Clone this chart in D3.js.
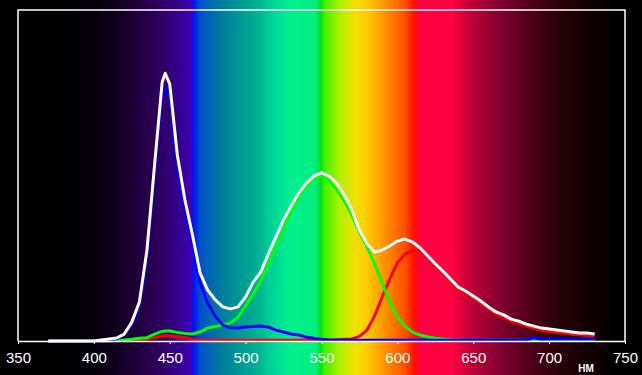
<!DOCTYPE html>
<html>
<head>
<meta charset="utf-8">
<script src="https://cdn.jsdelivr.net/npm/d3@7"></script>
<style>
    html, body { margin: 0; padding: 0; background: #000; }
    svg { display: block; }
</style>
</head>
<body>
<svg width="642" height="375"></svg>
<script>
// wavelengths (nm)
var wavelengths = [370, 375, 380, 385, 390, 395, 400, 405, 410, 415, 420, 425, 430, 435, 440, 445, 447, 450,
    455, 460, 465, 470, 475, 480, 485, 490, 495, 500, 505, 510, 515, 520, 525, 530, 535, 540, 545, 550,
    555, 560, 565, 570, 575, 580, 585, 590, 595, 600, 605, 610, 615, 620, 625, 630, 635, 640, 645, 650,
    655, 660, 665, 670, 675, 680, 685, 690, 695, 700, 705, 710, 715, 720, 725, 730];

// relative intensity, %
var whiteValues = [0, 0, 0, 0, 0, 0, 0, 0.3, 0.6, 0.9, 2.1, 5.7, 11.8, 27.5, 53.2, 78.2, 80.9, 77.6,
    56.2, 42.6, 32.0, 20.5, 15.4, 12.4, 10.3, 9.7, 10.3, 13.3, 17.8, 20.8, 26.3, 31.4, 36.6, 40.8, 44.7, 47.7, 49.8, 50.8,
    49.8, 47.7, 44.1, 39.6, 33.5, 29.3, 26.9, 27.5, 28.7, 30.2, 30.8, 29.9, 28.1, 25.7, 23.3, 21.1, 18.7, 16.3, 15.1, 13.6,
    12.1, 10.3, 8.8, 7.9, 6.6, 6.0, 5.1, 4.5, 3.9, 3.6, 3.3, 3.0, 2.7, 2.4, 2.4, 2.1];

var blueValues = [0, 0, 0, 0, 0, 0, 0, 0, 0.3, 0.6, 1.8, 5.0, 10.5, 25.5, 50.5, 74.5, 76.4, 73.5,
    52.5, 39.5, 29.5, 17.5, 11.5, 7.5, 4.8, 4.0, 3.9, 4.2, 4.4, 4.5, 4.2, 3.3, 2.7, 2.1, 1.8, 1.2, 0.8, 0.5,
    0.3, 0.2, 0.2, 0.2, 0.2, 0.2, 0.2, 0.2, 0.2, 0.2, 0.2, 0.2, 0.2, 0.2, 0.2, 0.2, 0.2, 0.2, 0.2, 0.2,
    0.2, 0.2, 0.2, 0.2, 0.2, 0.2, 0.4, 1.0, 0.5, 0.6, 0.6, 0.6, 0.6, 0.6, 0.6, 0.6];

var greenValues = [0, 0, 0, 0, 0, 0, 0, 0, 0.1, 0.2, 0.3, 0.5, 0.8, 1.0, 2.1, 2.9, 3.0, 3.0,
    2.6, 2.3, 2.1, 2.7, 3.9, 4.4, 4.8, 5.4, 7.2, 10.6, 14.2, 18.1, 23.3, 28.7, 33.8, 39.0, 43.8, 46.6, 48.9, 50.1,
    48.6, 45.6, 42.3, 38.1, 32.9, 28.4, 23.3, 17.5, 11.8, 7.3, 4.5, 2.7, 1.8, 1.2, 0.8, 0.6, 0.4, 0.3, 0.2, 0.2,
    0.2, 0.2, 0.2, 0.2, 0.2, 0.2, 0.2, 0.2, 0.2, 0.2, 0.2, 0.2, 0.2, 0.2, 0.2, 0.2];

var redValues = [0, 0, 0, 0, 0, 0, 0, 0, 0.1, 0.1, 0.2, 0.3, 0.4, 0.6, 1.0, 1.5, 1.6, 1.6,
    1.3, 1.0, 0.5, 0.3, 0.2, 0.2, 0.2, 0.2, 0.2, 0.2, 0.2, 0.2, 0.2, 0.2, 0.2, 0.2, 0.2, 0.2, 0.2, 0.2,
    0.3, 0.4, 0.5, 0.6, 1.4, 3.3, 7.6, 13.3, 18.7, 23.6, 26.3, 27.2, 27.0, 25.2, 22.6, 20.4, 18.0, 15.6, 14.4, 12.9,
    11.4, 9.7, 8.2, 7.3, 6.0, 5.4, 4.5, 3.8, 3.2, 2.9, 2.6, 2.3, 2.0, 1.9, 1.6, 1.5];

var xTicks = [350, 400, 450, 500, 550, 600, 650, 700, 750];
var unitLabel = "НМ";

// spectrum background: [nm, colour]
var spectrumNm = [350, 378, 404, 424, 444, 460, 464, 465.5, 470, 483, 500, 510, 516, 529, 546, 549, 550, 552,
    562, 572, 579, 592, 605, 611, 615, 636, 648, 668, 687, 707, 727, 747];
var spectrumColors = ["#000000", "#000000", "#05000c", "#1a0030", "#2e0060", "#3800a0", "#4000b8", "#0010ff",
    "#0050c8", "#007a9e", "#00a092", "#00b892", "#00d098", "#00f090", "#00f080", "#00e030", "#10e000", "#40f000",
    "#b0f000", "#f0e000", "#ffd000", "#ff9000", "#ff5000", "#ff1000", "#ff0040", "#ff0040", "#c00038",
    "#800030", "#500018", "#280008", "#100000", "#000000"];

window.onload = main;

function main() {
    var width = 642,
        height = 375;
    var margin = { left: 18, right: 17, top: 10, bottom: 34 };

    var svg = d3.select("svg");

    var x = d3.scaleLinear().domain([350, 750]).range([margin.left, width - margin.right]);
    var y = d3.scaleLinear().domain([0, 100]).range([height - margin.bottom, margin.top]);

    // spectrum gradient
    var grad = svg.append("defs").append("linearGradient")
        .attr("id", "spectrum")
        .attr("gradientUnits", "userSpaceOnUse")
        .attr("x1", x(350)).attr("x2", x(750))
        .attr("y1", 0).attr("y2", 0);
    grad.selectAll("stop")
        .data(spectrumNm)
        .enter()
        .append("stop")
        .attr("offset", function (d) { return (d - 350) / 400; })
        .attr("stop-color", function (d, i) { return spectrumColors[i]; });

    svg.append("rect")
        .attr("width", width).attr("height", height)
        .attr("fill", "#000");
    svg.append("rect")
        .attr("x", x(350)).attr("width", x(750) - x(350))
        .attr("y", 0).attr("height", height)
        .attr("fill", "url(#spectrum)");

    // frame
    svg.append("path")
        .attr("d", "M" + x(350) + "," + y(0) + "V" + margin.top + "H" + x(750) + "V" + y(0))
        .attr("fill", "none")
        .attr("stroke", "#fff")
        .attr("stroke-width", 1.5);

    // curves
    var series = [
        { values: redValues, color: "#ff0000" },
        { values: greenValues, color: "#00ff00" },
        { values: blueValues, color: "#0000ff" },
        { values: whiteValues, color: "#ffffff" }
    ];
    var line = d3.line()
        .x(function (d, i) { return x(wavelengths[i]); })
        .y(function (d) { return y(d); });

    svg.selectAll("path.curve")
        .data(series)
        .enter()
        .append("path")
        .attr("class", "curve")
        .attr("d", function (s) {
            // start each colour channel where it leaves zero (white runs full range)
            return line(s.values);
        })
        .attr("fill", "none")
        .attr("stroke", function (s) { return s.color; })
        .attr("stroke-width", 3)
        .attr("stroke-linejoin", "round");

    // x axis
    var axis = svg.append("g")
        .attr("transform", "translate(0," + y(0) + ")")
        .call(d3.axisBottom(x).tickValues(xTicks).tickSize(3).tickSizeOuter(0).tickPadding(8));
    axis.select(".domain").attr("stroke", "#fff").attr("stroke-width", 1.5);
    axis.selectAll(".tick line").attr("stroke", "#fff");
    axis.selectAll(".tick text")
        .attr("fill", "#fff")
        .style("font-family", "'Liberation Sans', Arial, sans-serif")
        .style("font-size", "15px");

    svg.append("text")
        .attr("x", 586).attr("y", 372)
        .attr("text-anchor", "middle")
        .attr("fill", "#fff")
        .style("font-family", "'Liberation Sans', Arial, sans-serif")
        .style("font-size", "10px")
        .style("font-weight", "bold")
        .text(unitLabel);
}
</script>
</body>
</html>
